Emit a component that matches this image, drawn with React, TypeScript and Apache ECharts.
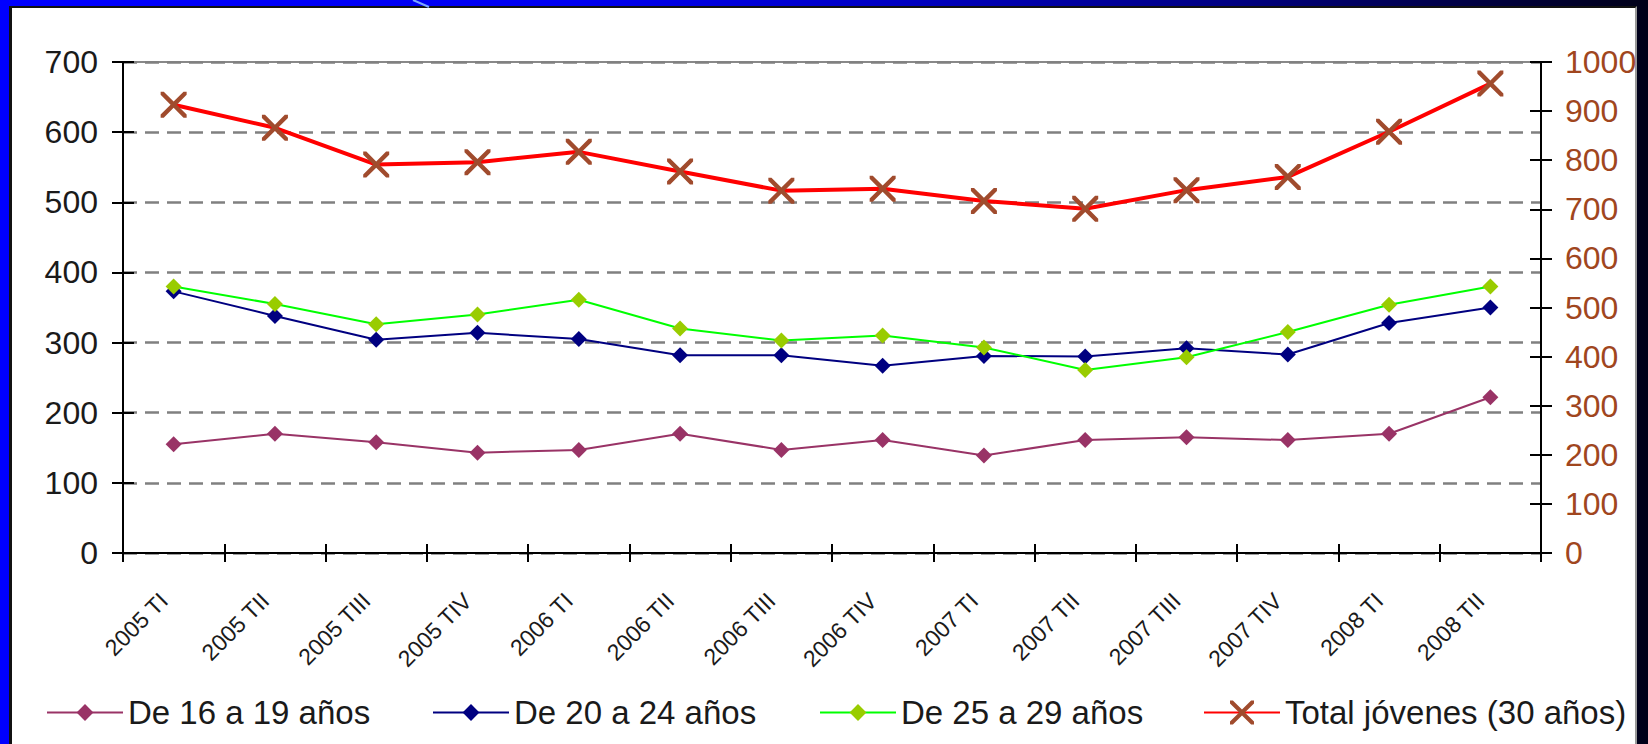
import React, { useEffect, useRef } from "react";
import * as echarts from "echarts";

const categories = [
  "2005 TI", "2005 TII", "2005 TIII", "2005 TIV",
  "2006 TI", "2006 TII", "2006 TIII", "2006 TIV",
  "2007 TI", "2007 TII", "2007 TIII", "2007 TIV",
  "2008 TI", "2008 TII",
];
const age16to19 = [155, 170, 158, 143, 147, 170, 147, 161, 139, 161, 165, 161, 170, 222];
const age20to24 = [373, 338, 304, 314, 305, 282, 282, 267, 281, 280, 292, 283, 328, 350];
const age25to29 = [380, 355, 326, 340, 361, 320, 303, 310, 293, 261, 279, 315, 354, 380];
const totalYouth = [913, 866, 791, 796, 817, 777, 738, 742, 717, 701, 739, 766, 858, 956];

const seriesNames = ["De 16 a 19 años", "De 20 a 24 años", "De 25 a 29 años", "Total jóvenes (30 años)"];
const leftAxisMax = 700;
const rightAxisMax = 1000;
const axisInterval = 100;

const FONT = "'Liberation Sans', Arial, sans-serif";
const X_SYMBOL =
  "path://M0,0 L1.2,0 L5,3.8 L8.8,0 L10,0 L10,1.2 L6.2,5 L10,8.8 L10,10 L8.8,10 L5,6.2 L1.2,10 L0,10 L0,8.8 L3.8,5 L0,1.2 Z";

export default function App() {
  const ref = useRef<HTMLDivElement>(null);

  useEffect(() => {
    if (!ref.current) return;
    const chart = echarts.init(ref.current, undefined, { renderer: "svg" });

    const legendBase = (name: string, left: number, itemHeight = 21) => ({
      data: [name],
      left,
      top: 691,
      itemWidth: 76,
      itemHeight,
      textStyle: { fontSize: 33, color: "#1a1a1a", fontFamily: FONT },
    });

    chart.setOption({
      animation: false,
      backgroundColor: "transparent",
      textStyle: { fontFamily: FONT },
      grid: {
        left: 123,
        right: 107,
        top: 62,
        bottom: 191,
        containLabel: false,
        show: true,
        borderColor: "#888888",
        borderWidth: 2,
        backgroundColor: "transparent",
      },
      legend: [
        legendBase(seriesNames[0], 41),
        legendBase(seriesNames[1], 427),
        legendBase(seriesNames[2], 814),
        legendBase(seriesNames[3], 1198, 30),
      ],
      xAxis: [
        {
          type: "category",
          data: categories,
          position: "bottom",
          boundaryGap: true,
          axisLine: { show: true, lineStyle: { color: "#000", width: 2 } },
          axisTick: { show: true, inside: false, length: 9, interval: 0, lineStyle: { color: "#000", width: 2 } },
          axisLabel: {
            interval: 0,
            rotate: 45,
            margin: 34,
            padding: [0, 14, 0, 0],
            fontSize: 23,
            color: "#1a1a1a",
            fontFamily: FONT,
          },
          splitLine: { show: false },
        },
        {
          type: "category",
          data: categories,
          position: "bottom",
          boundaryGap: true,
          axisLine: { show: false },
          axisTick: { show: true, inside: true, length: 9, interval: 0, lineStyle: { color: "#000", width: 2 } },
          axisLabel: { show: false },
          splitLine: { show: false },
        },
      ],
      yAxis: [
        {
          type: "value",
          position: "left",
          min: 0,
          max: leftAxisMax,
          interval: axisInterval,
          axisLine: { show: true, lineStyle: { color: "#000", width: 2 } },
          axisTick: { show: true, inside: false, length: 11, lineStyle: { color: "#000", width: 2 } },
          axisLabel: { fontSize: 32, color: "#1a1a1a", margin: 25, fontFamily: FONT },
          splitLine: { show: true, lineStyle: { color: "#808080", width: 2.5, type: [14, 8] } },
        },
        {
          type: "value",
          position: "right",
          min: 0,
          max: rightAxisMax,
          interval: axisInterval,
          axisLine: { show: true, lineStyle: { color: "#000", width: 2 } },
          axisTick: { show: true, inside: false, length: 11, lineStyle: { color: "#000", width: 2 } },
          axisLabel: {
            fontSize: 32,
            color: "#a0461e",
            margin: 24,
            fontFamily: FONT,
            formatter: (v: number) => String(v),
          },
          splitLine: { show: false },
        },
        {
          type: "value",
          position: "left",
          min: 0,
          max: leftAxisMax,
          interval: axisInterval,
          axisLine: { show: false },
          axisTick: { show: true, inside: true, length: 11, lineStyle: { color: "#000", width: 2 } },
          axisLabel: { show: false },
          splitLine: { show: false },
        },
        {
          type: "value",
          position: "right",
          min: 0,
          max: rightAxisMax,
          interval: axisInterval,
          axisLine: { show: false },
          axisTick: { show: true, inside: true, length: 11, lineStyle: { color: "#000", width: 2 } },
          axisLabel: { show: false },
          splitLine: { show: false },
        },
      ],
      series: [
        {
          name: seriesNames[0],
          type: "line",
          xAxisIndex: 0,
          yAxisIndex: 0,
          data: age16to19,
          symbol: "diamond",
          symbolSize: 16,
          lineStyle: { color: "#993366", width: 2 },
          itemStyle: { color: "#993366" },
        },
        {
          name: seriesNames[1],
          type: "line",
          xAxisIndex: 0,
          yAxisIndex: 0,
          data: age20to24,
          symbol: "diamond",
          symbolSize: 16,
          lineStyle: { color: "#000080", width: 2 },
          itemStyle: { color: "#000080" },
        },
        {
          name: seriesNames[2],
          type: "line",
          xAxisIndex: 0,
          yAxisIndex: 0,
          data: age25to29,
          symbol: "diamond",
          symbolSize: 16,
          lineStyle: { color: "#00ff00", width: 2 },
          itemStyle: { color: "#99cc00" },
        },
        {
          name: seriesNames[3],
          type: "line",
          xAxisIndex: 0,
          yAxisIndex: 1,
          data: totalYouth,
          symbol: X_SYMBOL,
          symbolSize: 26,
          lineStyle: { color: "#ff0000", width: 4 },
          itemStyle: { color: "#a04b2d" },
        },
      ],
      graphic: [
        {
          type: "line",
          shape: { x1: 413, y1: 0, x2: 429, y2: 7 },
          style: { stroke: "#7aa6ff", lineWidth: 2 },
          silent: true,
        },
      ],
    });

    return () => chart.dispose();
  }, []);

  return (
    <div
      style={{
        position: "fixed",
        left: 0,
        top: 0,
        width: 1648,
        height: 744,
        overflow: "hidden",
        background:
          "linear-gradient(90deg, #0000ff 0%, #0000f0 35%, #0000c0 55%, #000080 75%, #000040 90%, #000018 100%)",
      }}
    >
      <div
        style={{
          position: "absolute",
          left: 9,
          top: 6,
          width: 1628,
          height: 760,
          background: "#ffffff",
          borderLeft: "3px solid #111",
          borderTop: "2px solid #111",
          borderRight: "2px solid #999",
          boxSizing: "border-box",
        }}
      />
      <div
        ref={ref}
        style={{ position: "absolute", left: 0, top: 0, width: 1648, height: 744 }}
      />
    </div>
  );
}
